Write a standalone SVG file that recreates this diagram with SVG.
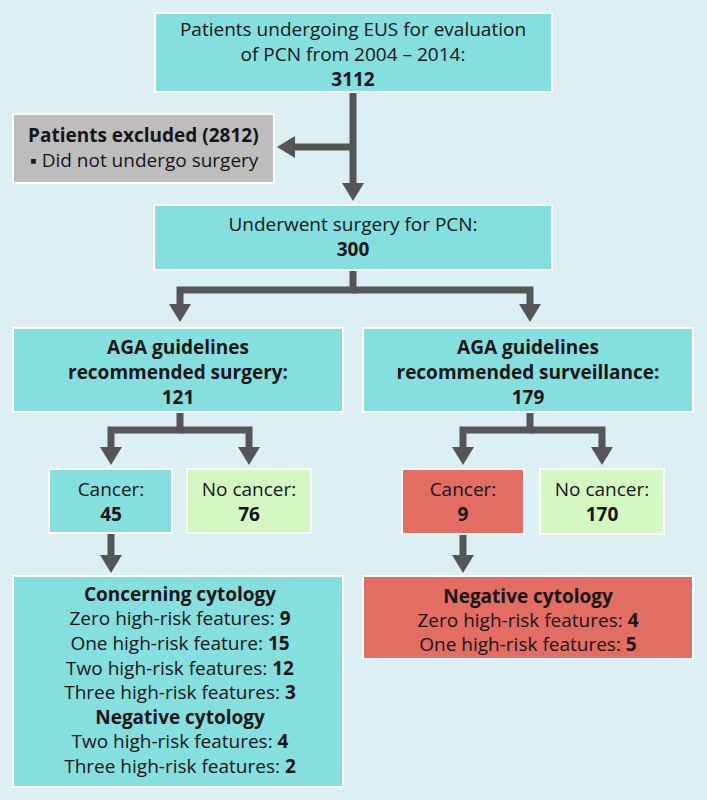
<svg xmlns="http://www.w3.org/2000/svg" width="707" height="800" viewBox="0 0 707 800">
<defs>
<style>
.bg{fill:#dcf0f3}
.box{stroke:#ffffff;stroke-width:2}
.cyan{fill:#86dfdf}
.gray{fill:#bdbdbd}
.green{fill:#d3f8c2}
.red{fill:#e36d63}
text{font-family:"Open Sans","Noto Sans","Liberation Sans",sans-serif;font-size:19px;fill:#151515}
.c{text-anchor:middle}
.b{font-weight:bold}
.conn{fill:none;stroke:#555555;stroke-width:7;stroke-linejoin:miter;marker-end:url(#ah)}
</style>
<marker id="ah" markerUnits="userSpaceOnUse" markerWidth="18" markerHeight="22" refX="0" refY="11" orient="auto" viewBox="0 0 18 22">
<path d="M0,0 L18,11 L0,22 z" fill="#555555"/>
</marker>
</defs>
<rect class="bg" x="0" y="0" width="707" height="800"/>
<g id="connectors">
<path class="conn" d="M353,92 V183"/>
<path class="conn" d="M353,147 H295"/>
<path class="conn" d="M353,270 V290 H180 V304"/>
<path class="conn" d="M353,290 H530 V304"/>
<path class="conn" d="M180,412 V430 H111 V447"/>
<path class="conn" d="M180,430 H249 V447"/>
<path class="conn" d="M530,412 V430 H463 V447"/>
<path class="conn" d="M530,430 H602 V447"/>
<path class="conn" d="M111,533 V555"/>
<path class="conn" d="M463,534 V555"/>
</g>
<g id="n-total">
<rect class="box cyan" x="155" y="13" width="397" height="79"/>
<text class="c" x="353" y="36">Patients undergoing EUS for evaluation</text>
<text class="c" x="353" y="61">of PCN from 2004 – 2014:</text>
<text class="c b" x="353" y="86">3112</text>
</g>
<g id="n-excluded">
<rect class="box gray" x="13" y="114" width="261" height="69"/>
<text class="b" x="28" y="142">Patients excluded (2812)</text>
<text x="30" y="167">▪ Did not undergo surgery</text>
</g>
<g id="n-surgery">
<rect class="box cyan" x="154" y="205" width="398" height="65"/>
<text class="c" x="353" y="231">Underwent surgery for PCN:</text>
<text class="c b" x="353" y="256">300</text>
</g>
<g id="n-aga-surgery">
<rect class="box cyan" x="13" y="328" width="330" height="84"/>
<text class="c b" x="178" y="354">AGA guidelines</text>
<text class="c b" x="178" y="379">recommended surgery:</text>
<text class="c b" x="178" y="404">121</text>
</g>
<g id="n-aga-surveillance">
<rect class="box cyan" x="363" y="328" width="330" height="84"/>
<text class="c b" x="528" y="354">AGA guidelines</text>
<text class="c b" x="528" y="379">recommended surveillance:</text>
<text class="c b" x="528" y="404">179</text>
</g>
<g id="n-cancer-left">
<rect class="box cyan" x="49" y="469" width="123" height="64"/>
<text class="c" x="111" y="496">Cancer:</text>
<text class="c b" x="111" y="521">45</text>
</g>
<g id="n-nocancer-left">
<rect class="box green" x="187" y="469" width="124" height="64"/>
<text class="c" x="249" y="496">No cancer:</text>
<text class="c b" x="249" y="521">76</text>
</g>
<g id="n-cancer-right">
<rect class="box red" x="402" y="469" width="122" height="65"/>
<text class="c" x="463" y="496">Cancer:</text>
<text class="c b" x="463" y="521">9</text>
</g>
<g id="n-nocancer-right">
<rect class="box green" x="540" y="469" width="124" height="65"/>
<text class="c" x="602" y="496">No cancer:</text>
<text class="c b" x="602" y="521">170</text>
</g>
<g id="n-cytology-left">
<rect class="box cyan" x="13" y="576" width="330" height="211"/>
<text class="c b" x="180" y="601">Concerning cytology</text>
<text class="c" x="180" y="625">Zero high-risk features: <tspan class="b">9</tspan></text>
<text class="c" x="180" y="650">One high-risk feature: <tspan class="b">15</tspan></text>
<text class="c" x="180" y="675">Two high-risk features: <tspan class="b">12</tspan></text>
<text class="c" x="180" y="699">Three high-risk features: <tspan class="b">3</tspan></text>
<text class="c b" x="180" y="724">Negative cytology</text>
<text class="c" x="180" y="748">Two high-risk features: <tspan class="b">4</tspan></text>
<text class="c" x="180" y="773">Three high-risk features: <tspan class="b">2</tspan></text>
</g>
<g id="n-cytology-right">
<rect class="box red" x="363" y="576" width="330" height="83"/>
<text class="c b" x="528" y="603">Negative cytology</text>
<text class="c" x="528" y="627">Zero high-risk features: <tspan class="b">4</tspan></text>
<text class="c" x="528" y="651">One high-risk features: <tspan class="b">5</tspan></text>
</g>
</svg>
